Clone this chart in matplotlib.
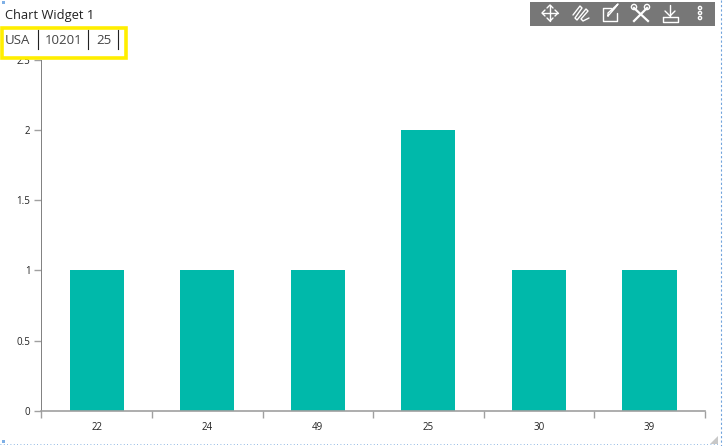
import numpy as np
import matplotlib
matplotlib.use("Agg")
import matplotlib.pyplot as plt
from matplotlib.patches import Rectangle, Polygon, Circle

title = "Chart Widget 1"
filter_labels = ["USA", "10201", "25"]
categories = ["22", "24", "49", "25", "30", "39"]
values = [1, 1, 1, 2, 1, 1]
y_ticks = [0, 0.5, 1, 1.5, 2, 2.5]
y_labels = ["0", "0.5", "1", "1.5", "2", "2.5"]

W, H = 723, 446
plt.rcParams['font.family'] = ['Open Sans', 'DejaVu Sans']

fig = plt.figure(figsize=(W / 100, H / 100), dpi=100)

# main chart, placed in pixels
left, right, top, bottom = 41.4, 704.8, 59.5, 411
ax = fig.add_axes([left / W, 1 - bottom / H, (right - left) / W, (bottom - top) / H])
x = np.arange(len(categories))
ax.bar(x, values, width=0.49, color='#00b9aa')
ax.set_xlim(-0.5, len(categories) - 0.5)
ax.set_ylim(0, 2.5)
ax.set_yticks(y_ticks)
ax.set_yticklabels(y_labels, fontsize=7, color='#222222')
ax.set_xticks(np.arange(len(categories) + 1) - 0.5)
ax.set_xticklabels([])
ax.set_xticks(x, minor=True)
ax.set_xticklabels(categories, minor=True, fontsize=7, color='#222222')
ax.tick_params(axis='x', which='major', length=5, width=1, color='#a0a0a0')
ax.tick_params(axis='x', which='minor', length=0, pad=8)
ax.tick_params(axis='y', length=5, width=1, color='#a0a0a0', pad=3)
for s in ['top', 'right']:
    ax.spines[s].set_visible(False)
ax.spines['left'].set_color('#808080')
ax.spines['left'].set_linewidth(0.7)
ax.spines['bottom'].set_color('#a0a0a0')
ax.spines['bottom'].set_linewidth(1.2)

# overlay in pixel coordinates for widget chrome
ov = fig.add_axes([0, 0, 1, 1], zorder=5)
ov.set_xlim(0, W)
ov.set_ylim(H, 0)
ov.axis('off')
ov.patch.set_alpha(0)

ov.text(5, 15.5, title, fontsize=9.3, color='#222222', va='center', ha='left')

# yellow filter box
ov.add_patch(Rectangle((2, 27.5), 123.5, 30, facecolor='white', edgecolor='#ffee00', linewidth=2.6))
for lab, tx in zip(filter_labels, [5, 45, 96]):
    ov.text(tx, 40.5, lab, fontsize=9.5, color='#444444', va='center', ha='left')
for sx in [37.5, 88, 117.5]:
    ov.plot([sx, sx], [30, 49], color='#222222', lw=0.8)

# toolbar
ov.add_patch(Rectangle((530, 2), 185, 24, facecolor='#777777', edgecolor='none'))
ic = dict(color='white', lw=1, solid_capstyle='round')
# move
ov.plot([542, 558], [13, 13], **ic)
ov.plot([550, 550], [5, 21], **ic)
ov.plot([545, 542, 545], [10, 13, 16], **ic)
ov.plot([555, 558, 555], [10, 13, 16], **ic)
ov.plot([547, 550, 553], [8, 5, 8], **ic)
ov.plot([547, 550, 553], [18, 21, 18], **ic)
# scribble
ov.plot([573, 580, 582, 575, 577, 586, 588, 581, 583, 589],
        [15, 6, 8, 18, 20, 9, 11, 19, 21, 18], **ic)
# edit
ov.plot([611, 603, 603, 617, 617], [8, 8, 21, 21, 13], **ic)
ov.plot([608, 608, 618, 615, 608], [16, 13, 4, 8, 16], **ic)
# tools
ov.plot([634, 648], [8, 21], color='white', lw=1.6)
ov.plot([647, 634], [8, 21], color='white', lw=1.6)
ov.add_patch(Circle((634, 7), 2.6, facecolor='#777777', edgecolor='white', lw=1))
ov.add_patch(Circle((647, 7), 2.6, facecolor='#777777', edgecolor='white', lw=1))
# download
ov.plot([670, 670], [5, 16], **ic)
ov.plot([665, 670, 675], [11, 16, 11], **ic)
ov.plot([663, 663, 678, 678, 663], [17, 22, 22, 17, 17], **ic)
# more
for cy in [8, 13, 18]:
    ov.add_patch(Circle((700, cy), 1.6, facecolor='#777777', edgecolor='white', lw=1))

# selection border of the widget
ov.plot([720.5, 720.5], [0, H], color='#6fa3dc', lw=0.8, ls=(0, (2, 2)))
ov.plot([0, 720], [444, 444], color='#6fa3dc', lw=0.6, ls=(0, (1, 3)))
ov.add_patch(Rectangle((2, 440), 3, 3, facecolor='#7fb0e6', edgecolor='none'))
ov.add_patch(Rectangle((2, 1), 3, 3, facecolor='#7fb0e6', edgecolor='none'))
ov.add_patch(Polygon([[718, 436], [718, 444], [710, 444]], facecolor='#c8c8c8', edgecolor='none'))

fig.savefig('out.png', dpi=100)
